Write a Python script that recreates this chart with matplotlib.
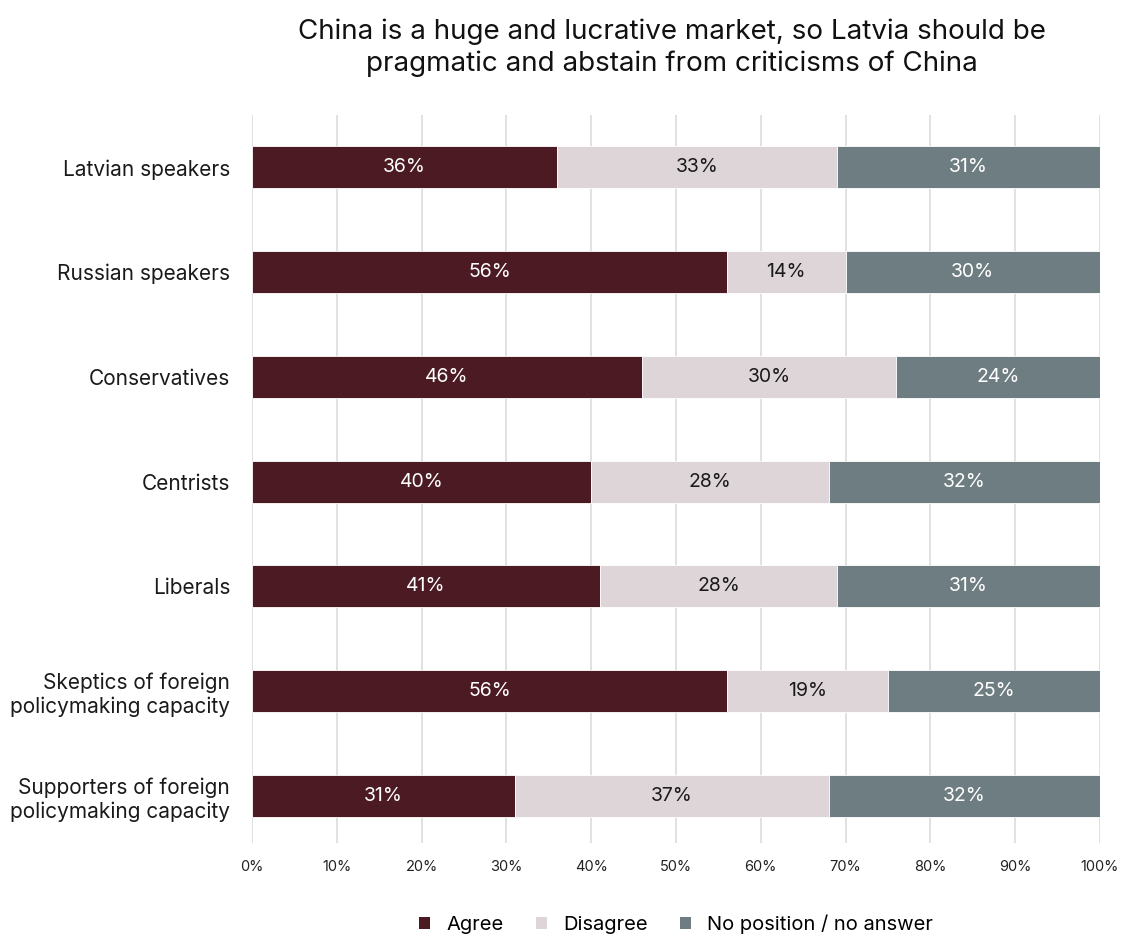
import matplotlib
matplotlib.use("Agg")
import matplotlib.pyplot as plt
from matplotlib.patches import Patch

plt.rcParams['font.family'] = ['Inter', 'DejaVu Sans']

title = "China is a huge and lucrative market, so Latvia should be\npragmatic and abstain from criticisms of China"

groups = [
    "Latvian speakers",
    "Russian speakers",
    "Conservatives",
    "Centrists",
    "Liberals",
    "Skeptics of foreign\npolicymaking capacity",
    "Supporters of foreign\npolicymaking capacity",
]
agree = [36, 56, 46, 40, 41, 56, 31]
disagree = [33, 14, 30, 28, 28, 19, 37]
no_answer = [31, 30, 24, 32, 31, 25, 32]

series_names = ["Agree", "Disagree", "No position / no answer"]
colors = ["#4b1a22", "#ded5d8", "#6e7d81"]
text_colors = ["white", "#1a1a1a", "white"]

fig = plt.figure(figsize=(11.24, 9.36), dpi=100)
ax = fig.add_axes([252 / 1124, 1 - 843 / 936, (1100 - 252) / 1124, (843 - 115) / 936])

ypos = list(range(len(groups)))
left = [0] * len(groups)
for vals, col, tcol in zip([agree, disagree, no_answer], colors, text_colors):
    ax.barh(ypos, vals, left=left, height=0.4, color=col,
            edgecolor="white", linewidth=0.6, zorder=3)
    for y, v, l in zip(ypos, vals, left):
        ax.text(l + v / 2, y, f"{v}%", ha="center", va="center",
                color=tcol, fontsize=14, zorder=4)
    left = [a + b for a, b in zip(left, vals)]

ax.set_xlim(0, 100)
ax.set_ylim(6.45, -0.5)
ax.set_xticks(range(0, 101, 10))
ax.set_xticklabels([f"{t}%" for t in range(0, 101, 10)], fontsize=10.5, color="#222222")
ax.set_yticks(ypos)
ax.set_yticklabels(groups, fontsize=15, color="#1a1a1a")
ax.tick_params(axis="y", length=0, pad=15.7)
ax.tick_params(axis="x", length=0, pad=12)
ax.grid(axis="x", color="#dcdcdc", linewidth=1.2, zorder=0)
for s in ax.spines.values():
    s.set_visible(False)

fig.text(672 / 1124, 1 - 48 / 936, title, ha="center", va="center",
         fontsize=20, color="#111111", linespacing=1.25)

handles = [Patch(facecolor=c, edgecolor="none") for c in colors]
fig.legend(handles, series_names, loc="center", bbox_to_anchor=(676 / 1124, 1 - 924 / 936),
           ncol=3, frameon=False, fontsize=14.5, handlelength=0.55, handleheight=0.55,
           handletextpad=0.8, columnspacing=1.6)

fig.savefig("out.png", dpi=100, facecolor="white")
